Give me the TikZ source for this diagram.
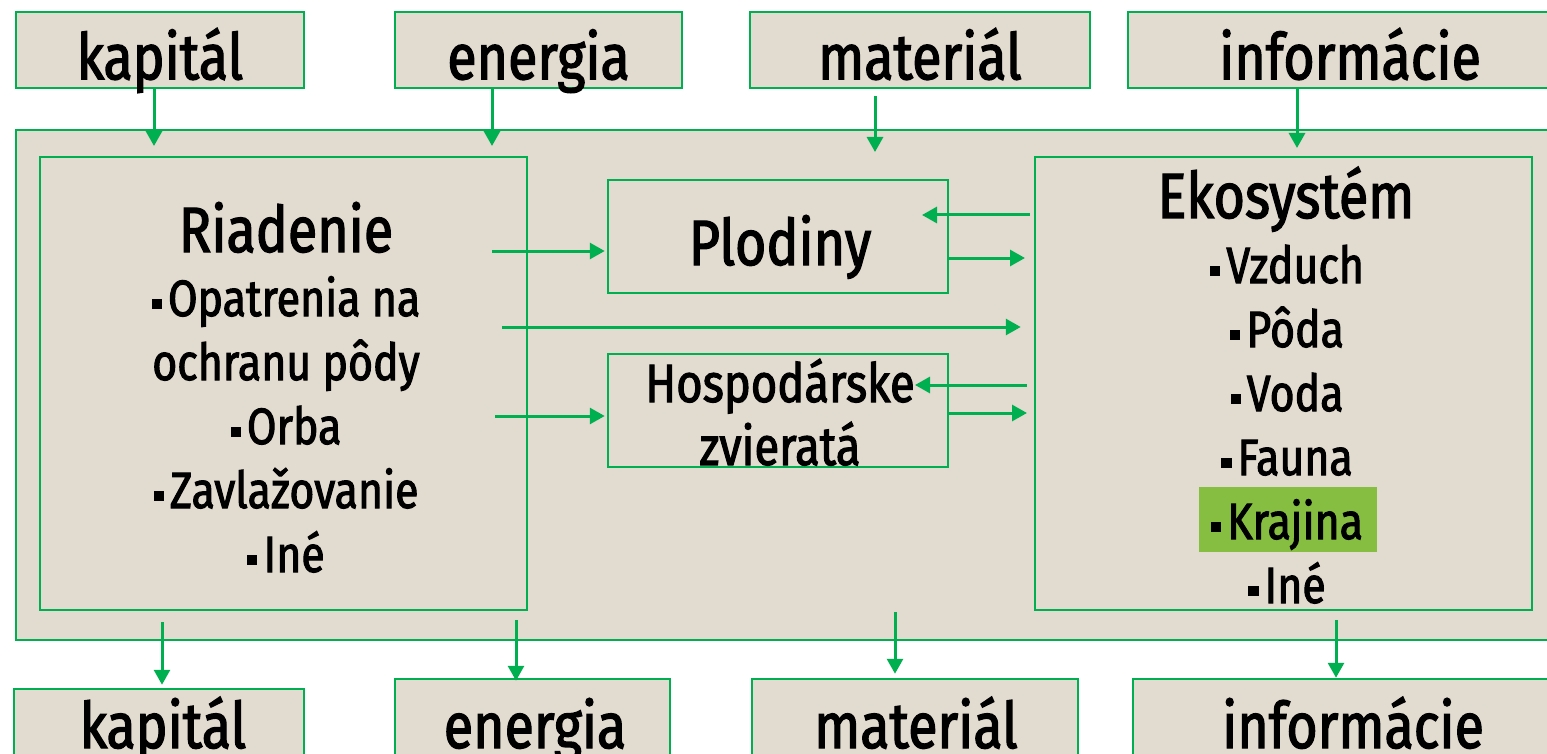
\documentclass[tikz,border=0pt]{standalone}
\usepackage{fontspec}
\setmainfont[FakeStretch=0.84, FakeBold=2]{Fira Sans}
\usetikzlibrary{arrows.meta}
\definecolor{zelena}{RGB}{0,176,80}
\definecolor{piesok}{RGB}{226,219,207}
\definecolor{krajina}{RGB}{134,190,65}
\newcommand{\bod}{\rule[0.14em]{0.2em}{0.2em}\hspace{0.12em}}
\begin{document}
\begin{tikzpicture}[x=1pt,y=-1pt]
\tikzstyle{box}=[draw=zelena, fill=piesok, line width=2.5pt, inner sep=0pt]
\tikzstyle{velky}=[anchor=base, inner sep=0pt, font=\fontsize{64}{64}\selectfont]
\tikzstyle{polozka}=[anchor=base, inner sep=0pt, font=\fontsize{51}{51}\selectfont]
\tikzstyle{tok}=[draw=zelena, line width=3pt, -{Triangle[length=15pt,width=16pt]}]
\useasboundingbox (0,0) rectangle (1547,754);
% vstupy
\node (kapT) [box, minimum width=288pt, minimum height=76pt] at (160,50) {};
\node (enT) [box, minimum width=287pt, minimum height=76pt] at (538.5,50) {};
\node (matT) [box, minimum width=340pt, minimum height=76pt] at (920,50) {};
\node (infT) [box, minimum width=432pt, minimum height=76pt] at (1344,50) {};
\node [velky] at ([yshift=10pt]kapT.south) {kapitál};
\node [velky] at ([yshift=10pt]enT.south) {energia};
\node [velky] at ([yshift=10pt]matT.south) {materiál};
\node [velky, xshift=6pt] at ([yshift=10pt]infT.south) {informácie};
% system
\node (sys) [box, minimum width=1544pt, minimum height=510pt] at (788,385) {};
\node (riad) [box, minimum width=487pt, minimum height=453pt] at (283.5,383.5) {};
\node (plod) [box, minimum width=340pt, minimum height=113pt] at (778,236.5) {};
\node (hosp) [box, minimum width=340pt, minimum height=113pt] at (778,410.5) {};
\node (eko) [box, minimum width=497pt, minimum height=453pt] at (1283.5,383.5) {};
\node [velky] at (286,252) {Riadenie};
\foreach \t [count=\i] in {\bod Opatrenia na, ochranu pôdy, \bod Orba, \bod Zavlažovanie, \bod Iné}
  \node [polozka] at (286,{316+64*(\i-1)}) {\t};
\node [velky] at (780,265) {Plodiny};
\node [polozka, font=\fontsize{54}{54}\selectfont] at (780,402) {Hospodárske};
\node [polozka, font=\fontsize{54}{54}\selectfont] at (780,465) {zvieratá};
\fill [krajina] (1199,487) rectangle (1377,552);
\node [velky] at (1286,218) {Ekosystém};
\foreach \t [count=\i] in {Vzduch, Pôda, Voda, Fauna, Krajina, Iné}
  \node [polozka] at (1287,{283+64*(\i-1)}) {\bod\t};
% vystupy
\node (kapB) [box, minimum width=290pt, minimum height=90pt] at (159,734) {};
\node (enB) [box, minimum width=275pt, minimum height=100pt] at (532.5,729) {};
\node (matB) [box, minimum width=326pt, minimum height=100pt] at (915,729) {};
\node (infB) [box, minimum width=430pt, minimum height=100pt] at (1348,729) {};
\node [velky] at (163,748) {kapitál};
\node [velky] at (535,748) {energia};
\node [velky] at (916,748) {materiál};
\node [velky] at (1353,748) {informácie};
% toky
\coordinate (t1) at (154,146);
\coordinate (t2) at (492,146);
\coordinate (t3) at (875,152);
\coordinate (t4) at (1297,148);
\draw [tok] (t1 |- kapT.south) -- (t1);
\draw [tok] (t2 |- enT.south) -- (t2);
\draw [tok, shorten <=7pt] (t3 |- matT.south) -- (t3);
\draw [tok] (t4 |- infT.south) -- (t4);
\coordinate (s1) at (162,622);
\coordinate (s2) at (516,620);
\coordinate (s3) at (895,612);
\coordinate (s4) at (1336,620);
\draw [tok, shorten >=3pt] (s1) -- (s1 |- kapB.north);
\draw [tok, shorten >=-3pt] (s2) -- (s2 |- enB.north);
\draw [tok, shorten >=4pt] (s3) -- (s3 |- matB.north);
\draw [tok] (s4) -- (s4 |- infB.north);
\coordinate (r1) at (492,251);
\coordinate (r2) at (502,327);
\coordinate (r3) at (495,416);
\draw [tok, shorten >=2pt] (r1) -- (r1 -| plod.west);
\draw [tok, shorten >=13pt] (r2) -- (r2 -| eko.west);
\draw [tok, shorten >=2pt] (r3) -- (r3 -| hosp.west);
\coordinate (p1) at (922,215);
\coordinate (p2) at (1025,258);
\coordinate (h1) at (915,385);
\coordinate (h2) at (1027,413);
\draw [tok, shorten <=4pt] (eko.west |- p1) -- (p1);
\draw [tok] (plod.east |- p2) -- (p2);
\draw [tok, shorten <=7pt] (eko.west |- h1) -- (h1);
\draw [tok] (hosp.east |- h2) -- (h2);
\end{tikzpicture}
\end{document}
